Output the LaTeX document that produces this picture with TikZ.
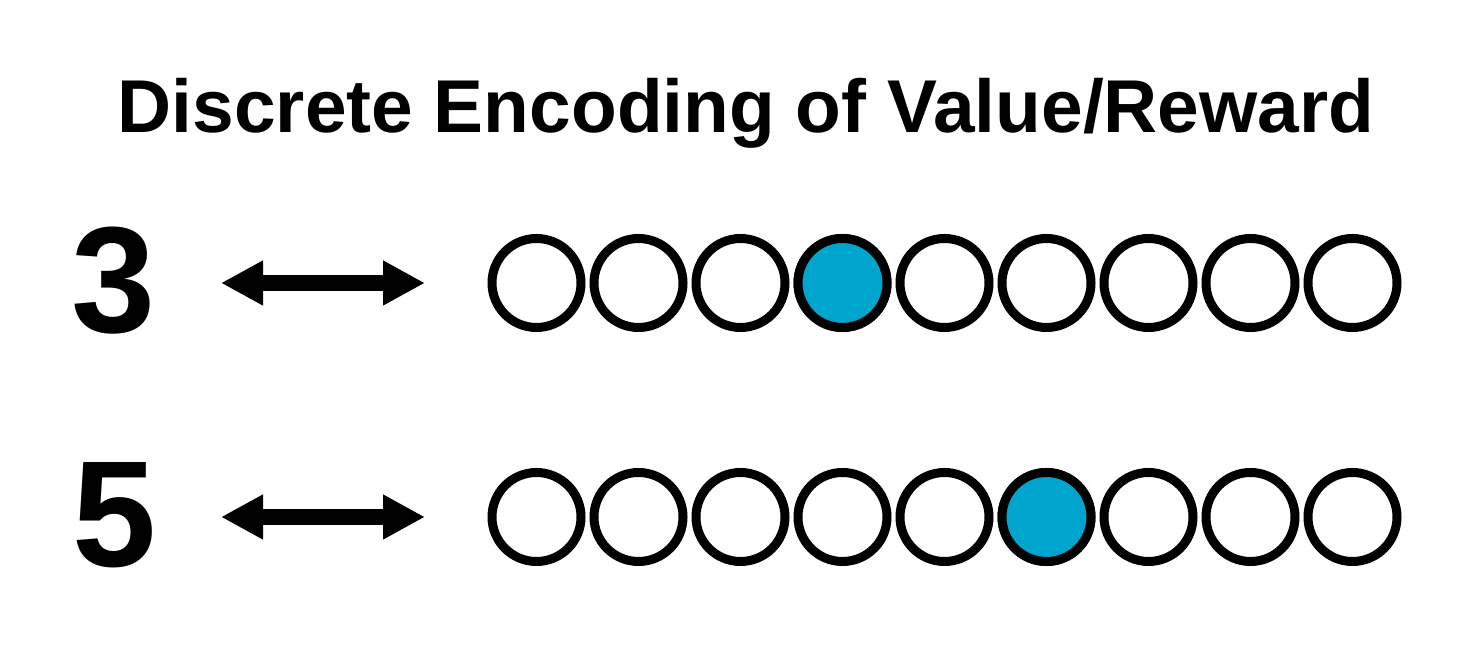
\documentclass[tikz,border=0pt]{standalone}
\usepackage{fontspec}
\setmainfont{Liberation Sans}
\usetikzlibrary{arrows.meta}
\definecolor{ink}{HTML}{000000}
\definecolor{hot}{HTML}{00A5CE}

\begin{document}
\begin{tikzpicture}[text=ink,
  bit/.style={circle,draw=ink,line width=0.18cm,fill=white,minimum size=1.78cm,inner sep=0pt},
  onbit/.style={bit,fill=hot},
  biarrow/.style={{Triangle[length=0.84cm,width=0.84cm]}-{Triangle[length=0.84cm,width=0.84cm]},ink,line width=0.32cm}]
  \useasboundingbox (0,0) rectangle (29.24,12.94);
  \node[font=\fontsize{42.6}{50}\selectfont\bfseries,anchor=base] (title) at (14.92,10.28) {Discrete Encoding of Value/Reward};
  % row for value 3
  \node[font=\fontsize{86}{90}\selectfont\bfseries] (num3) at (2.27,7.32) {3};
  \coordinate (l3) at (4.42,7.28);
  \coordinate (r3) at (8.5,7.28);
  \draw[biarrow] (l3) -- (r3);
  \foreach \i in {1,...,9}
    \node[bit] (a\i) at ({10.73+2.04*(\i-1)},7.28) {};
  \node[onbit] (a4) at (a4) {};
  % row for value 5
  \node[font=\fontsize{86}{90}\selectfont\bfseries] (num5) at (2.3,2.64) {5};
  \coordinate (l5) at (4.42,2.6);
  \coordinate (r5) at (8.5,2.6);
  \draw[biarrow] (l5) -- (r5);
  \foreach \i in {1,...,9}
    \node[bit] (b\i) at ({10.73+2.04*(\i-1)},2.6) {};
  \node[onbit] (b6) at (b6) {};
\end{tikzpicture}
\end{document}
